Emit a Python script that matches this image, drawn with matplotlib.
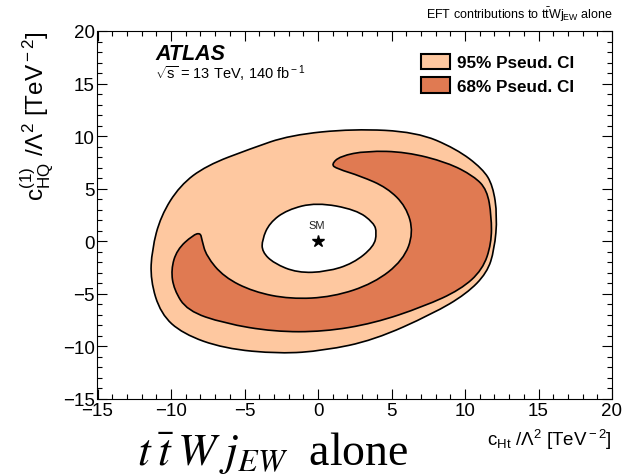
import matplotlib
matplotlib.use("Agg")
import matplotlib.pyplot as plt
import numpy as np
from matplotlib.path import Path
from matplotlib.patches import PathPatch, Patch
from matplotlib.ticker import MultipleLocator

plt.rcParams['font.family'] = ['Liberation Sans', 'DejaVu Sans']
plt.rcParams['mathtext.fontset'] = 'custom'
plt.rcParams['mathtext.rm'] = 'Liberation Sans'
plt.rcParams['mathtext.it'] = 'Liberation Sans:italic'
plt.rcParams['mathtext.bf'] = 'Liberation Sans:bold'

# 95% credible region: outer boundary and inner hole around the SM point
ci95_outer_x = [2.4, 6.7, 9.4, 11.2, 11.9, 12.2, 12.0, 11.5, 10.1, 7.8, 3.8, 0.4,
                -2.6, -6.4, -9.2, -10.7, -11.4, -11.3, -10.7, -9.4, -7.6, -4.6, -1.9]
ci95_outer_y = [10.7, 10.4, 8.8, 6.9, 5.3, 2.4, -0.8, -3.0, -5.0, -6.9, -9.4, -10.4,
                -10.7, -10.2, -8.8, -6.9, -3.7, -0.8, 2.4, 5.3, 7.2, 8.8, 10.1]
ci95_hole_x = [-0.1, 2.6, 3.8, 4.0, 3.8, 2.4, 0.6, -1.4, -3.0, -3.8, -3.8, -3.3, -2.1]
ci95_hole_y = [3.7, 3.0, 1.75, 0.8, -0.5, -2.1, -2.9, -3.0, -2.1, -1.0, 0.15, 1.75, 3.0]

# 68% credible region (crescent)
ci68_x = [0.9, 1.5, 3.3, 6.0, 8.8, 10.6, 11.5, 11.8, 11.8, 11.2, 9.7, 7.2, 3.8, 0.4,
          -3.0, -6.4, -8.9, -9.8, -10.0, -9.6, -8.5, -8.0, -7.9, -7.6, -6.4, -4.4,
          -1.9, 1.0, 3.8, 5.8, 6.5, 6.0, 4.7, 2.9, 1.3]
ci68_y = [7.3, 8.1, 8.6, 8.5, 7.5, 6.2, 4.9, 2.4, -0.2, -2.7, -4.6, -6.2, -7.8, -8.6,
          -8.6, -7.8, -6.6, -4.6, -2.7, -0.8, 0.6, 0.8, 0.15, -1.4, -3.4, -4.8,
          -5.5, -5.3, -4.0, -1.8, 0.8, 3.3, 5.1, 6.2, 6.9]

sm_point = (0.0, 0.0)
legend_labels = ['95% Pseud. CI', '68% Pseud. CI']
col95 = '#fec8a0'
col68 = '#e07a52'


def smooth_ring(xs, ys, reverse=False):
    # closed quadratic-bezier ring through the midpoints, data points as controls
    p = np.column_stack([xs, ys])
    if reverse:
        p = p[::-1]
    mid = (p + np.roll(p, -1, axis=0)) / 2
    verts = [mid[-1]]
    codes = [Path.MOVETO]
    for i in range(len(p)):
        verts += [p[i], mid[i]]
        codes += [Path.CURVE3, Path.CURVE3]
    verts.append(mid[-1])
    codes.append(Path.CLOSEPOLY)
    return verts, codes


fig = plt.figure(figsize=(6.22, 4.77), dpi=100)
ax = fig.add_axes([97.5 / 622, 77 / 477, 514.5 / 622, 368 / 477])

v1, c1 = smooth_ring(ci95_outer_x, ci95_outer_y)
v2, c2 = smooth_ring(ci95_hole_x, ci95_hole_y, reverse=True)
ax.add_patch(PathPatch(Path(v1 + v2, c1 + c2), facecolor=col95, edgecolor='black', lw=1.2))
v3, c3 = smooth_ring(ci68_x, ci68_y)
ax.add_patch(PathPatch(Path(v3, c3), facecolor=col68, edgecolor='black', lw=1.2))

ax.plot(*sm_point, marker='*', color='black', ms=9, ls='none')
ax.text(sm_point[0] - 0.1, sm_point[1] + 1.1, 'SM', fontsize=8, ha='center', va='bottom',
        color='#222222')

ax.set_xlim(-15, 20)
ax.set_ylim(-15, 20)
ax.xaxis.set_major_locator(MultipleLocator(5))
ax.xaxis.set_minor_locator(MultipleLocator(1))
ax.yaxis.set_major_locator(MultipleLocator(5))
ax.yaxis.set_minor_locator(MultipleLocator(1))
ax.tick_params(which='both', direction='in', top=True, right=True, labelsize=13.5, width=0.8)
ax.tick_params(which='major', length=7.5, pad=2)
ax.tick_params(which='minor', length=3.8)

ax.set_xlabel(r'c$_{\rm Ht}$ /$\Lambda^{2}$ [TeV$^{\rm -2}$]', fontsize=13.5, loc='right',
              labelpad=6)
ax.set_ylabel(r'c$^{(1)}_{\rm HQ}$ /$\Lambda^{2}$ [TeV$^{\rm -2}$]', fontsize=17.5, loc='top',
              labelpad=5)

ax.text(0.112, 0.9375, 'ATLAS', transform=ax.transAxes, fontsize=15.5, fontweight='bold',
        fontstyle='italic', va='center')
ax.text(0.112, 0.886, r'$\sqrt{\rm s}$ = 13 TeV, 140 fb$^{\rm -1}$', transform=ax.transAxes,
        fontsize=10.5, va='center')

handles = [Patch(facecolor=col95, edgecolor='black', lw=1.5),
           Patch(facecolor=col68, edgecolor='black', lw=1.5)]
ax.legend(handles, legend_labels, loc='upper left', bbox_to_anchor=(421 / 622, 1 - 55 / 477),
          bbox_transform=fig.transFigure, frameon=False, prop={'weight': 'bold', 'size': 12.3},
          handlelength=1.7, handleheight=1.0, handletextpad=0.4, labelspacing=0.4,
          borderaxespad=0, borderpad=0)

fig.text(613 / 622, 1 - 15 / 477, r'EFT contributions to t$\bar{\rm t}$Wj$_{\rm EW}$ alone',
         fontsize=9, ha='right', va='center')
fig.text(137 / 622, 12 / 477, r'$t\:\bar{t}\:W\;j_{EW}$  alone', fontsize=33, ha='left',
         va='baseline', family='Liberation Serif', math_fontfamily='stix')

fig.savefig('out.png', dpi=100)
